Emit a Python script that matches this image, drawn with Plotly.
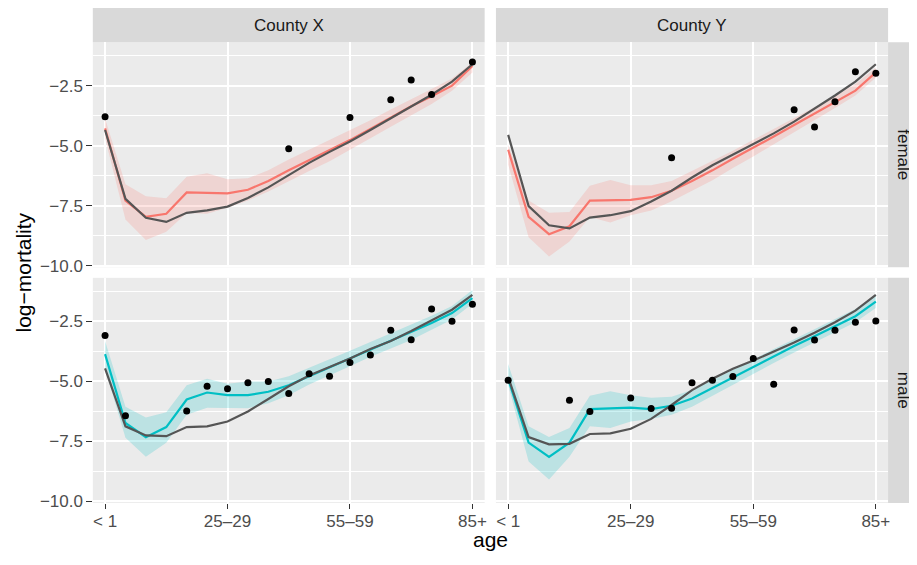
import plotly.graph_objects as go

ages = ["< 1", "1–4", "5–9", "10–14", "15–19", "20–24", "25–29", "30–34", "35–39",
        "40–44", "45–49", "50–54", "55–59", "60–64", "65–69", "70–74", "75–79", "80–84", "85+"]
tick_ages = ["< 1", "25–29", "55–59", "85+"]
counties = ["County X", "County Y"]
sexes = ["female", "male"]

# County X, female
obs_XF = [-3.80, None, None, None, None, None, None, None, None, -5.13, None, None, -3.83, None, -3.09, -2.27, -2.87, None, -1.51]
fit_XF = [-4.28, -7.29, -7.97, -7.84, -6.95, -6.98, -6.99, -6.84, -6.47, -6.03, -5.62, -5.21, -4.77, -4.31, -3.84, -3.36, -2.94, -2.50, -1.68]
lo_XF = [-4.69, -8.08, -8.93, -8.59, -7.81, -7.84, -7.59, -7.29, -6.91, -6.50, -6.06, -5.65, -5.17, -4.69, -4.21, -3.73, -3.27, -2.71, -1.95]
hi_XF = [-3.87, -6.61, -7.11, -7.19, -6.30, -6.15, -6.40, -6.36, -6.03, -5.58, -5.17, -4.76, -4.35, -3.94, -3.49, -3.08, -2.64, -2.20, -1.54]
ref_XF = [-4.35, -7.22, -8.01, -8.18, -7.80, -7.70, -7.54, -7.18, -6.74, -6.22, -5.72, -5.26, -4.83, -4.35, -3.87, -3.36, -2.88, -2.33, -1.61]

# County Y, female
obs_YF = [None, None, None, None, None, None, None, None, -5.51, None, None, None, None, None, -3.50, -4.22, -3.17, -1.92, -1.98]
fit_YF = [-5.17, -7.97, -8.69, -8.36, -7.29, -7.29, -7.26, -7.15, -6.88, -6.47, -6.03, -5.55, -5.10, -4.62, -4.14, -3.66, -3.19, -2.71, -1.95]
lo_YF = [-5.79, -8.82, -9.62, -9.00, -7.97, -8.20, -7.90, -7.70, -7.32, -6.88, -6.44, -5.93, -5.45, -4.94, -4.44, -3.94, -3.43, -2.91, -2.16]
hi_YF = [-4.97, -7.29, -7.80, -7.77, -6.67, -6.43, -6.65, -6.65, -6.47, -6.06, -5.65, -5.21, -4.76, -4.31, -3.84, -3.39, -2.94, -2.43, -1.75]
ref_YF = [-4.55, -7.52, -8.32, -8.45, -8.00, -7.90, -7.73, -7.33, -6.88, -6.33, -5.82, -5.37, -4.94, -4.49, -4.00, -3.46, -2.91, -2.33, -1.61]

# County X, male
obs_XM = [-3.09, -6.44, None, None, -6.24, -5.21, -5.31, -5.06, -5.01, -5.51, -4.69, -4.79, -4.22, -3.91, -2.88, -3.27, -1.99, -2.50, -1.79]
fit_XM = [-3.87, -6.74, -7.33, -6.91, -5.76, -5.47, -5.58, -5.58, -5.44, -5.17, -4.79, -4.42, -4.05, -3.66, -3.32, -2.95, -2.57, -2.16, -1.54]
lo_XM = [-4.48, -7.36, -8.15, -7.56, -6.40, -6.10, -6.10, -6.13, -5.92, -5.58, -5.14, -4.76, -4.38, -3.98, -3.64, -3.28, -2.84, -2.43, -1.77]
hi_XM = [-3.32, -6.06, -6.51, -6.29, -5.17, -4.90, -5.10, -5.01, -5.01, -4.79, -4.44, -4.10, -3.73, -3.36, -3.01, -2.64, -2.27, -1.86, -1.20]
ref_XM = [-4.46, -6.88, -7.26, -7.29, -6.91, -6.88, -6.68, -6.26, -5.74, -5.21, -4.76, -4.42, -4.05, -3.66, -3.32, -2.91, -2.47, -2.02, -1.40]

# County Y, male
obs_YM = [-4.96, None, None, -5.79, -6.26, None, -5.70, -6.14, -6.13, -5.06, -4.96, -4.80, -4.05, -5.13, -2.86, -3.28, -2.87, -2.54, -2.49]
fit_YM = [-4.90, -7.56, -8.15, -7.56, -6.16, -6.13, -6.10, -6.16, -6.02, -5.72, -5.28, -4.83, -4.38, -3.94, -3.53, -3.12, -2.71, -2.29, -1.68]
lo_YM = [-5.17, -8.35, -9.10, -8.15, -6.88, -6.95, -6.68, -6.57, -6.40, -6.06, -5.61, -5.14, -4.69, -4.24, -3.80, -3.39, -2.95, -2.54, -1.95]
hi_YM = [-4.28, -6.88, -7.32, -6.95, -5.61, -5.42, -5.58, -5.69, -5.65, -5.37, -4.96, -4.53, -4.07, -3.66, -3.25, -2.84, -2.43, -1.99, -1.40]
ref_YM = [-4.83, -7.33, -7.63, -7.61, -7.20, -7.17, -6.98, -6.57, -5.99, -5.37, -4.90, -4.48, -4.14, -3.77, -3.39, -2.98, -2.54, -2.06, -1.40]

y_ticks = [-2.5, -5.0, -7.5, -10.0]
y_ticktext = ["−2.5", "−5.0", "−7.5", "−10.0"]
y_minor = [-1.25, -3.75, -6.25, -8.75]

OFF = 8  # page body margin: figure origin sits at (8, 8) in the window
W, H = 917, 565
FONT = "Liberation Sans, Arial, Helvetica, sans-serif"
COLORS = {"female": "#F8766D", "male": "#00BFC4"}
FILLS = {"female": "rgba(248,118,109,0.2)", "male": "rgba(0,191,196,0.2)"}

panels = [
    ("female", "County X", obs_XF, fit_XF, lo_XF, hi_XF, ref_XF),
    ("female", "County Y", obs_YF, fit_YF, lo_YF, hi_YF, ref_YF),
    ("male", "County X", obs_XM, fit_XM, lo_XM, hi_XM, ref_XM),
    ("male", "County Y", obs_YM, fit_YM, lo_YM, hi_YM, ref_YM),
]

# panel boundaries in window pixels
xpix = [(93, 485.7), (497, 890)]
ypix = [(42.7, 271), (281.7, 510)]

def px_x(p):
    return (p - OFF) / W

def px_y(p):
    return 1 - (p - OFF) / H

fig = go.Figure()
xi = list(range(len(ages)))

for k, (sex, county, obs, fit, lo, hi, ref) in enumerate(panels):
    n = k + 1
    xa = "x" if n == 1 else f"x{n}"
    ya = "y" if n == 1 else f"y{n}"
    fig.add_trace(go.Scatter(x=xi + xi[::-1], y=hi + lo[::-1], fill="toself",
                             fillcolor=FILLS[sex], line=dict(width=0), mode="lines",
                             hoverinfo="skip", showlegend=False, xaxis=xa, yaxis=ya))
    fig.add_trace(go.Scatter(x=xi, y=fit, mode="lines", line=dict(color=COLORS[sex], width=2.2),
                             showlegend=False, xaxis=xa, yaxis=ya))
    fig.add_trace(go.Scatter(x=xi, y=ref, mode="lines", line=dict(color="#555555", width=2.2),
                             showlegend=False, xaxis=xa, yaxis=ya))
    fig.add_trace(go.Scatter(x=xi, y=obs, mode="markers", marker=dict(color="black", size=7),
                             showlegend=False, xaxis=xa, yaxis=ya))

layout = dict(
    width=W, height=H,
    margin=dict(l=0, r=0, t=0, b=0),
    paper_bgcolor="white", plot_bgcolor="#EBEBEB",
    font=dict(family=FONT, color="#4D4D4D", size=17),
    showlegend=False,
)

tickvals_x = [ages.index(a) for a in tick_ages]
for k in range(4):
    n = k + 1
    r, c = divmod(k, 2)
    xkey = "xaxis" if n == 1 else f"xaxis{n}"
    ykey = "yaxis" if n == 1 else f"yaxis{n}"
    layout[xkey] = dict(
        domain=[px_x(xpix[c][0]), px_x(xpix[c][1])],
        anchor="y" if n == 1 else f"y{n}",
        range=[-0.6, 18.6], tickmode="array", tickvals=tickvals_x, ticktext=tick_ages,
        showgrid=True, gridcolor="white", gridwidth=2.4, zeroline=False, showline=False,
        ticks="outside" if r == 1 else "", ticklen=5.5, tickwidth=1.3, tickcolor="#333333",
        showticklabels=(r == 1), tickfont=dict(size=17, color="#4D4D4D"),
        ticklabelstandoff=-3,
        fixedrange=True,
    )
    layout[ykey] = dict(
        domain=[px_y(ypix[r][1]), px_y(ypix[r][0])],
        anchor="x" if n == 1 else f"x{n}",
        range=[-10.07, -0.69], tickmode="array", tickvals=y_ticks, ticktext=y_ticktext,
        showgrid=True, gridcolor="white", gridwidth=2.4, zeroline=False, showline=False,
        minor=dict(tickmode="array", tickvals=y_minor, showgrid=True, gridcolor="white",
                   gridwidth=1.2, ticklen=0),
        ticks="outside" if c == 0 else "", ticklen=5.5, tickwidth=1.3, tickcolor="#333333",
        showticklabels=(c == 0), tickfont=dict(size=17, color="#4D4D4D"),
        fixedrange=True,
    )

shapes = []
annotations = []
# top strips
for c, county in enumerate(counties):
    x0, x1 = xpix[c]
    shapes.append(dict(type="rect", xref="paper", yref="paper",
                       x0=px_x(x0), x1=px_x(x1), y0=px_y(42.7), y1=px_y(8),
                       fillcolor="#D9D9D9", line=dict(width=0), layer="below"))
    annotations.append(dict(text=county, xref="paper", yref="paper",
                            x=px_x((x0 + x1) / 2), y=px_y(25.5), showarrow=False,
                            xanchor="center", yanchor="middle",
                            font=dict(size=17, color="#1A1A1A", family=FONT)))
# right strips
for r, sex in enumerate(sexes):
    y0, y1 = ypix[r]
    shapes.append(dict(type="rect", xref="paper", yref="paper",
                       x0=px_x(890), x1=px_x(925), y0=px_y(y1), y1=px_y(y0),
                       fillcolor="#D9D9D9", line=dict(width=0), layer="below"))
    annotations.append(dict(text=sex, xref="paper", yref="paper",
                            x=px_x(905.5), y=px_y((y0 + y1) / 2), showarrow=False,
                            textangle=90, xanchor="center", yanchor="middle",
                            font=dict(size=17, color="#1A1A1A", family=FONT)))
# axis titles
annotations.append(dict(text="age", xref="paper", yref="paper",
                        x=px_x((93 + 890) / 2), y=px_y(547), showarrow=False,
                        xanchor="center", yanchor="middle",
                        font=dict(size=21, color="black", family=FONT)))
annotations.append(dict(text="log−mortality", xref="paper", yref="paper",
                        x=px_x(24), y=px_y((42.7 + 510) / 2), showarrow=False,
                        textangle=-90, xanchor="center", yanchor="middle",
                        font=dict(size=21, color="black", family=FONT)))

layout["shapes"] = shapes
layout["annotations"] = annotations
fig.update_layout(**layout)

fig.write_html("out.html")
